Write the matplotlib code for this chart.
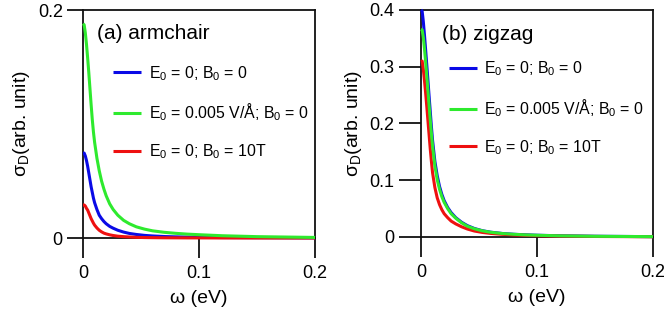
import matplotlib
matplotlib.use("Agg")
import matplotlib.pyplot as plt

plt.rcParams['font.family'] = ['Liberation Sans', 'DejaVu Sans']
plt.rcParams['mathtext.fontset'] = 'custom'
plt.rcParams['mathtext.rm'] = 'Liberation Sans'
plt.rcParams['mathtext.it'] = 'Liberation Sans:italic'

# ---- data ----
omega = [0, 0.001, 0.002, 0.003, 0.004, 0.005, 0.006, 0.007, 0.008, 0.009, 0.010,
         0.012, 0.014, 0.016, 0.018, 0.020, 0.023, 0.026, 0.030, 0.035, 0.040,
         0.046, 0.053, 0.060, 0.070, 0.080, 0.090, 0.100, 0.120, 0.150, 0.200]

# (a) armchair
arm_blue = [0.0745, 0.0745, 0.072, 0.068, 0.063, 0.057, 0.051, 0.045, 0.040, 0.035, 0.031,
            0.025, 0.020, 0.017, 0.0145, 0.0125, 0.0102, 0.0086, 0.0068, 0.0052, 0.0040,
            0.0031, 0.0023, 0.0018, 0.0013, 0.0010, 0.0008, 0.0006, 0.0004, 0.0003, 0.0001]
arm_green = [0.188, 0.187, 0.180, 0.170, 0.158, 0.145, 0.131, 0.117, 0.104, 0.093, 0.084,
             0.070, 0.059, 0.050, 0.043, 0.037, 0.030, 0.025, 0.020, 0.0155, 0.0125,
             0.0098, 0.0078, 0.0063, 0.0050, 0.0041, 0.0034, 0.0029, 0.0020, 0.0012, 0.0005]
arm_red = [0.029, 0.029, 0.028, 0.026, 0.0245, 0.022, 0.0195, 0.017, 0.015, 0.013, 0.0113,
           0.0088, 0.0068, 0.0054, 0.0043, 0.0036, 0.0028, 0.0022, 0.0016, 0.0012, 0.0009,
           0.0006, 0.0004, 0.0003, 0.0002, 0.00015, 0.0001, 0.0001, 0.00005, 0.0, 0.0]

# (b) zigzag
zig_blue = [0.400, 0.398, 0.380, 0.356, 0.330, 0.303, 0.276, 0.248, 0.221, 0.194, 0.170,
            0.133, 0.108, 0.089, 0.075, 0.064, 0.052, 0.043, 0.034, 0.026, 0.020,
            0.015, 0.011, 0.0085, 0.0062, 0.0048, 0.0038, 0.0031, 0.0021, 0.0013, 0.0006]
zig_green = [0.366, 0.365, 0.352, 0.332, 0.309, 0.284, 0.258, 0.232, 0.206, 0.182, 0.160,
             0.125, 0.101, 0.084, 0.071, 0.061, 0.050, 0.041, 0.033, 0.025, 0.019,
             0.0145, 0.0108, 0.0083, 0.0061, 0.0047, 0.0037, 0.0030, 0.0020, 0.0012, 0.0006]
zig_red = [0.309, 0.310, 0.296, 0.276, 0.254, 0.230, 0.205, 0.180, 0.155, 0.133, 0.113,
           0.087, 0.069, 0.057, 0.048, 0.041, 0.034, 0.028, 0.023, 0.018, 0.014,
           0.0105, 0.008, 0.0063, 0.0047, 0.0036, 0.0029, 0.0023, 0.0015, 0.0009, 0.0004]

labels = ['E$_\\mathrm{0}$ = 0; B$_\\mathrm{0}$ = 0',
          'E$_\\mathrm{0}$ = 0.005 V/Å; B$_\\mathrm{0}$ = 0',
          'E$_\\mathrm{0}$ = 0; B$_\\mathrm{0}$ = 10T']
titles = ['(a) armchair', '(b) zigzag']
xticks = [0, 0.1, 0.2]
xticklabels = ['0', '0.1', '0.2']
yticks_a = [0, 0.2]
yticklabels_a = ['0', '0.2']
yticks_b = [0, 0.1, 0.2, 0.3, 0.4]
yticklabels_b = ['0', '0.1', '0.2', '0.3', '0.4']

BLUE = '#0a0ae6'
GREEN = '#2eea2e'
RED = '#ee1010'

fig = plt.figure(figsize=(6.64, 3.11), dpi=100)
ax_a = fig.add_axes([0.125, 0.2347, 0.3494, 0.7331])
ax_b = fig.add_axes([0.634, 0.238, 0.3494, 0.730])

panels = [
    (ax_a, arm_blue, arm_green, arm_red, (0, 0.2), yticks_a, yticklabels_a, 11.5,
     (0.06, 0.899), (0.13, 0.764)),
    (ax_b, zig_blue, zig_green, zig_red, (0, 0.4), yticks_b, yticklabels_b, 16,
     (0.09, 0.89), (0.12, 0.782)),
]

for i, (ax, b, g, r, ylim, yt, ytl, ylen, tpos, lpos) in enumerate(panels):
    kw = dict(lw=2.2, clip_on=False, solid_joinstyle='round', solid_capstyle='butt')
    lb, = ax.plot(omega, b, color=BLUE, zorder=3, **kw)
    lr, = ax.plot(omega, r, color=RED, zorder=4, **kw)
    lg, = ax.plot(omega, g, color=GREEN, zorder=5, **kw)
    ax.set_xlim(0, 0.2)
    ax.set_ylim(*ylim)
    ax.set_xticks(xticks)
    ax.set_xticklabels(xticklabels)
    ax.set_yticks(yt)
    ax.set_yticklabels(ytl)
    for sp in ax.spines.values():
        sp.set_linewidth(1.3)
        sp.set_color('#111111')
    ax.tick_params(axis='x', direction='out', length=14.5, width=1.3, pad=5,
                   labelsize=13, color='#111111')
    ax.tick_params(axis='y', direction='out', length=ylen, width=1.3, pad=3,
                   labelsize=13, color='#111111')
    ax.set_xlabel('ω (eV)', fontsize=14, labelpad=6)
    ax.set_ylabel('σ$_\\mathrm{D}$(arb. unit)', fontsize=14, labelpad=4)
    ax.text(tpos[0], tpos[1], titles[i], transform=ax.transAxes, fontsize=15,
            ha='left', va='center')
    ax.legend([lb, lg, lr], labels, loc='upper left', bbox_to_anchor=lpos,
              frameon=False, fontsize=11.4, handlelength=1.75, handletextpad=0.5,
              labelspacing=1.2, borderpad=0, borderaxespad=0)

fig.savefig('out.png', dpi=100)
